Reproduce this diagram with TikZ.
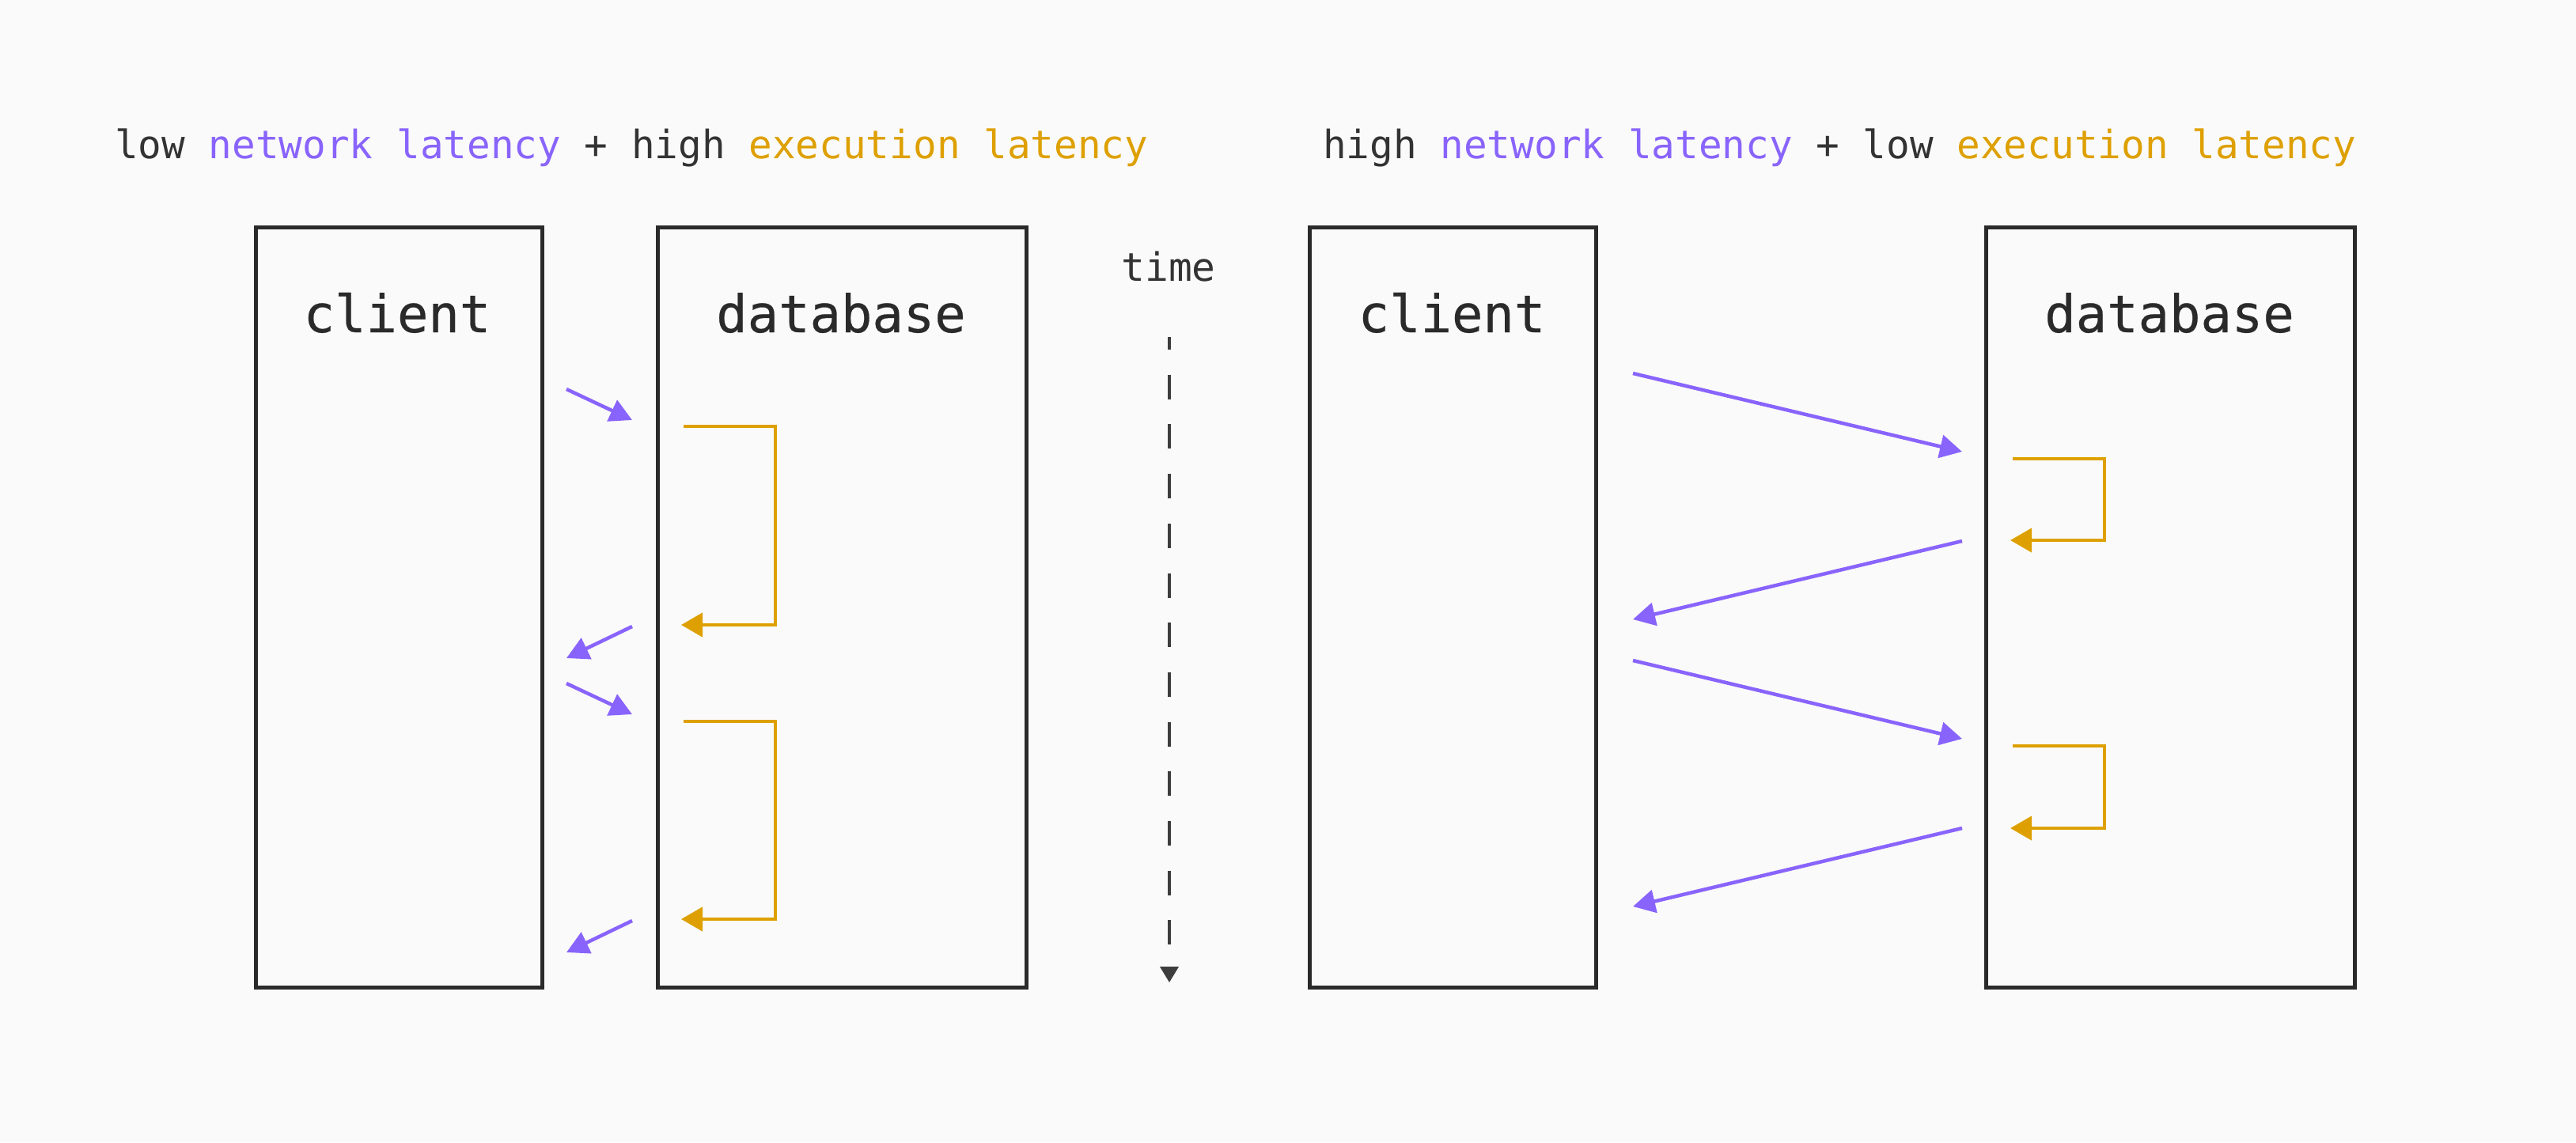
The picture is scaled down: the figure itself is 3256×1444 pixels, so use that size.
\documentclass[tikz,border=0pt]{standalone}
\usepackage{fontspec}
\setmonofont{DejaVu Sans Mono}
\usetikzlibrary{arrows.meta}
\definecolor{bg}{RGB}{250,250,250}
\definecolor{ink}{RGB}{42,42,42}
\definecolor{txt}{RGB}{51,51,51}
\definecolor{netc}{RGB}{137,100,252}
\definecolor{exec}{RGB}{222,160,0}
\definecolor{axis}{RGB}{61,61,61}
\tikzset{
  box/.style={draw=ink, line width=5pt, inner sep=0pt, minimum height=961pt},
  boxlabel/.style={text=ink, font=\ttfamily\fontsize{65.5}{65.5}\selectfont\addfontfeature{FakeBold=0.4}, inner sep=0pt, anchor=base},
  title/.style={text=txt, font=\ttfamily\fontsize{49.3}{49.3}\selectfont, inner sep=0pt, anchor=base west},
  netarrow/.style={draw=netc, line width=4.5pt, -{Triangle[length=28pt,width=29pt]}},
  execarrow/.style={draw=exec, line width=4.5pt, line join=miter, -{Triangle[length=27pt,width=30pt]}},
}
\begin{document}
\begin{tikzpicture}[x=1pt,y=-1pt]
\useasboundingbox (0,0) rectangle (3256,1444);
\fill[bg] (0,0) rectangle (3256,1444);

% titles
\node[title] (t1) at (145,200) {low \textcolor{netc}{network latency} + high \textcolor{exec}{execution latency}};
\node[title] (t2) at (1672,200) {high \textcolor{netc}{network latency} + low \textcolor{exec}{execution latency}};

% boxes
\node[box, minimum width=362pt] (cl) at (504,767.5) {};
\node[box, minimum width=466pt] (dl) at (1064,767.5) {};
\node[box, minimum width=362pt] (cr) at (1836,767.5) {};
\node[box, minimum width=466pt] (dr) at (2743.5,767.5) {};

\node[boxlabel] (clt) at (502,420) {client};
\node[boxlabel] (dlt) at (1063,420) {database};
\node[boxlabel] (crt) at (1835,420) {client};
\node[boxlabel] (drt) at (2742,420) {database};

% time axis
\node[text=txt, font=\ttfamily\fontsize{49.5}{49.5}\selectfont, inner sep=0pt, anchor=base] (time) at (1477,355) {time};
\coordinate (ta) at (1478,426);
\coordinate (tb) at (1478,1242);
\draw[axis, line width=4pt, dash pattern=on 31pt off 31.7pt, dash phase=15pt,
      -{Triangle[length=20pt,width=23pt]}] (ta) -- (tb);

% left: low network latency
\coordinate (a1s) at (716,492);  \coordinate (a1e) at (799,531);
\coordinate (a2s) at (799,792);  \coordinate (a2e) at (716,832);
\coordinate (a3s) at (716,864);  \coordinate (a3e) at (799,903);
\coordinate (a4s) at (799,1164); \coordinate (a4e) at (716,1204);
\draw[netarrow] (a1s) -- (a1e);
\draw[netarrow] (a2s) -- (a2e);
\draw[netarrow] (a3s) -- (a3e);
\draw[netarrow] (a4s) -- (a4e);

\coordinate (l1s) at (864,539); \coordinate (l1e) at (861,790);
\coordinate (l2s) at (864,912); \coordinate (l2e) at (861,1162);
\draw[execarrow] (l1s) -- (980,539) -- (980,790) -- (l1e);
\draw[execarrow] (l2s) -- (980,912) -- (980,1162) -- (l2e);

% right: high network latency
\coordinate (b1s) at (2064,472);  \coordinate (b1e) at (2480,571);
\coordinate (b2s) at (2480,684);  \coordinate (b2e) at (2064,783);
\coordinate (b3s) at (2064,835);  \coordinate (b3e) at (2480,934);
\coordinate (b4s) at (2480,1047); \coordinate (b4e) at (2064,1146);
\draw[netarrow] (b1s) -- (b1e);
\draw[netarrow] (b2s) -- (b2e);
\draw[netarrow] (b3s) -- (b3e);
\draw[netarrow] (b4s) -- (b4e);

\coordinate (r1s) at (2544,580); \coordinate (r1e) at (2541,683);
\coordinate (r2s) at (2544,943); \coordinate (r2e) at (2541,1047);
\draw[execarrow] (r1s) -- (2660,580) -- (2660,683) -- (r1e);
\draw[execarrow] (r2s) -- (2660,943) -- (2660,1047) -- (r2e);
\end{tikzpicture}
\end{document}
